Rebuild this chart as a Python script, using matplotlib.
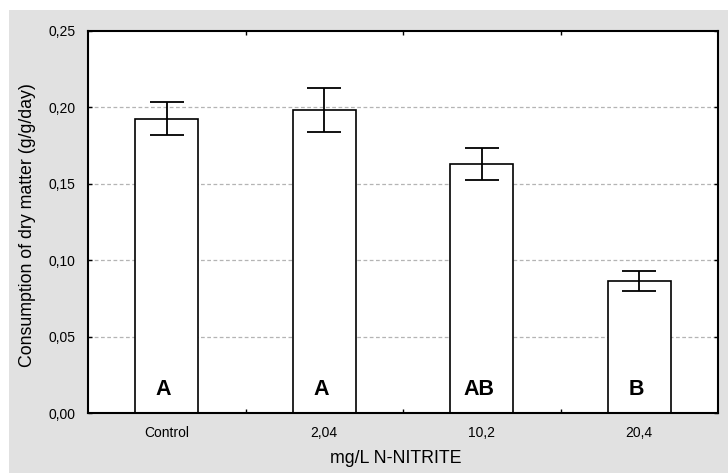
import matplotlib
matplotlib.use("Agg")
import matplotlib.pyplot as plt
from matplotlib.patches import Rectangle
from matplotlib.ticker import FixedLocator, FuncFormatter

plt.rcParams['font.family'] = ['Liberation Sans', 'DejaVu Sans']

# data
categories = ['Control', '2,04', '10,2', '20,4']
means = [0.1926, 0.1982, 0.1628, 0.0864]
errors = [0.0107, 0.0142, 0.0106, 0.0068]
letters = ['A', 'A', 'AB', 'B']
yticks = [0.00, 0.05, 0.10, 0.15, 0.20, 0.25]

fig = plt.figure(figsize=(7.28, 4.73), dpi=100)
fig.patch.set_facecolor('white')
# grey panel behind the plot
fig.patches.append(Rectangle((9 / 728, 0), 1 - 9 / 728, 1 - 10 / 473,
                             transform=fig.transFigure, facecolor='#e1e1e1',
                             edgecolor='none', zorder=-10))

ax = fig.add_axes([88 / 728, 1 - 413 / 473, 630 / 728, 382 / 473])
ax.set_facecolor('white')

x = range(len(categories))
ax.bar(x, means, width=0.4, color='white', edgecolor='black', linewidth=1.2, zorder=2)
ax.errorbar(x, means, yerr=errors, fmt='none', ecolor='black', elinewidth=1.3,
            capsize=11.9, capthick=1.3, zorder=3)

for i, lab in enumerate(letters):
    ax.text(i - 0.02, 0.012, lab, ha='center', va='baseline', fontsize=15.5,
            fontweight='bold', zorder=4)

ax.set_xlim(-0.5, len(categories) - 0.5)
ax.set_ylim(0, 0.25)
ax.set_xticks(list(x))
ax.set_xticklabels(categories, fontsize=10)
ax.xaxis.set_minor_locator(FixedLocator([0.5, 1.5, 2.5]))
ax.tick_params(axis='x', which='major', length=0, pad=9)
ax.tick_params(axis='x', which='minor', direction='in', length=3, width=1,
               top=True, bottom=True)

ax.set_yticks(yticks)
ax.yaxis.set_major_formatter(FuncFormatter(lambda v, p: f'{v:.2f}'.replace('.', ',')))
ax.tick_params(axis='y', direction='in', length=3, width=1, labelsize=10, pad=9,
               right=True)

for y in yticks[1:-1]:
    ax.axhline(y, color='#b4b4b4', linestyle=(0, (3, 2)), linewidth=0.9, zorder=1)

for s in ax.spines.values():
    s.set_linewidth(1.5)
    s.set_color('black')

ax.set_xlabel('mg/L N-NITRITE', fontsize=12.8)
ax.xaxis.set_label_coords((396 - 88) / 630, -(458 - 413) / 382, transform=ax.transAxes)
ax.xaxis.label.set_va('center')
ax.set_ylabel('Consumption of dry matter (g/g/day)', fontsize=12.8)
ax.yaxis.set_label_coords(-(88 - 28) / 630, (413 - 225) / 382, transform=ax.transAxes)
ax.yaxis.label.set_va('center')

fig.savefig('out.png', dpi=100)
